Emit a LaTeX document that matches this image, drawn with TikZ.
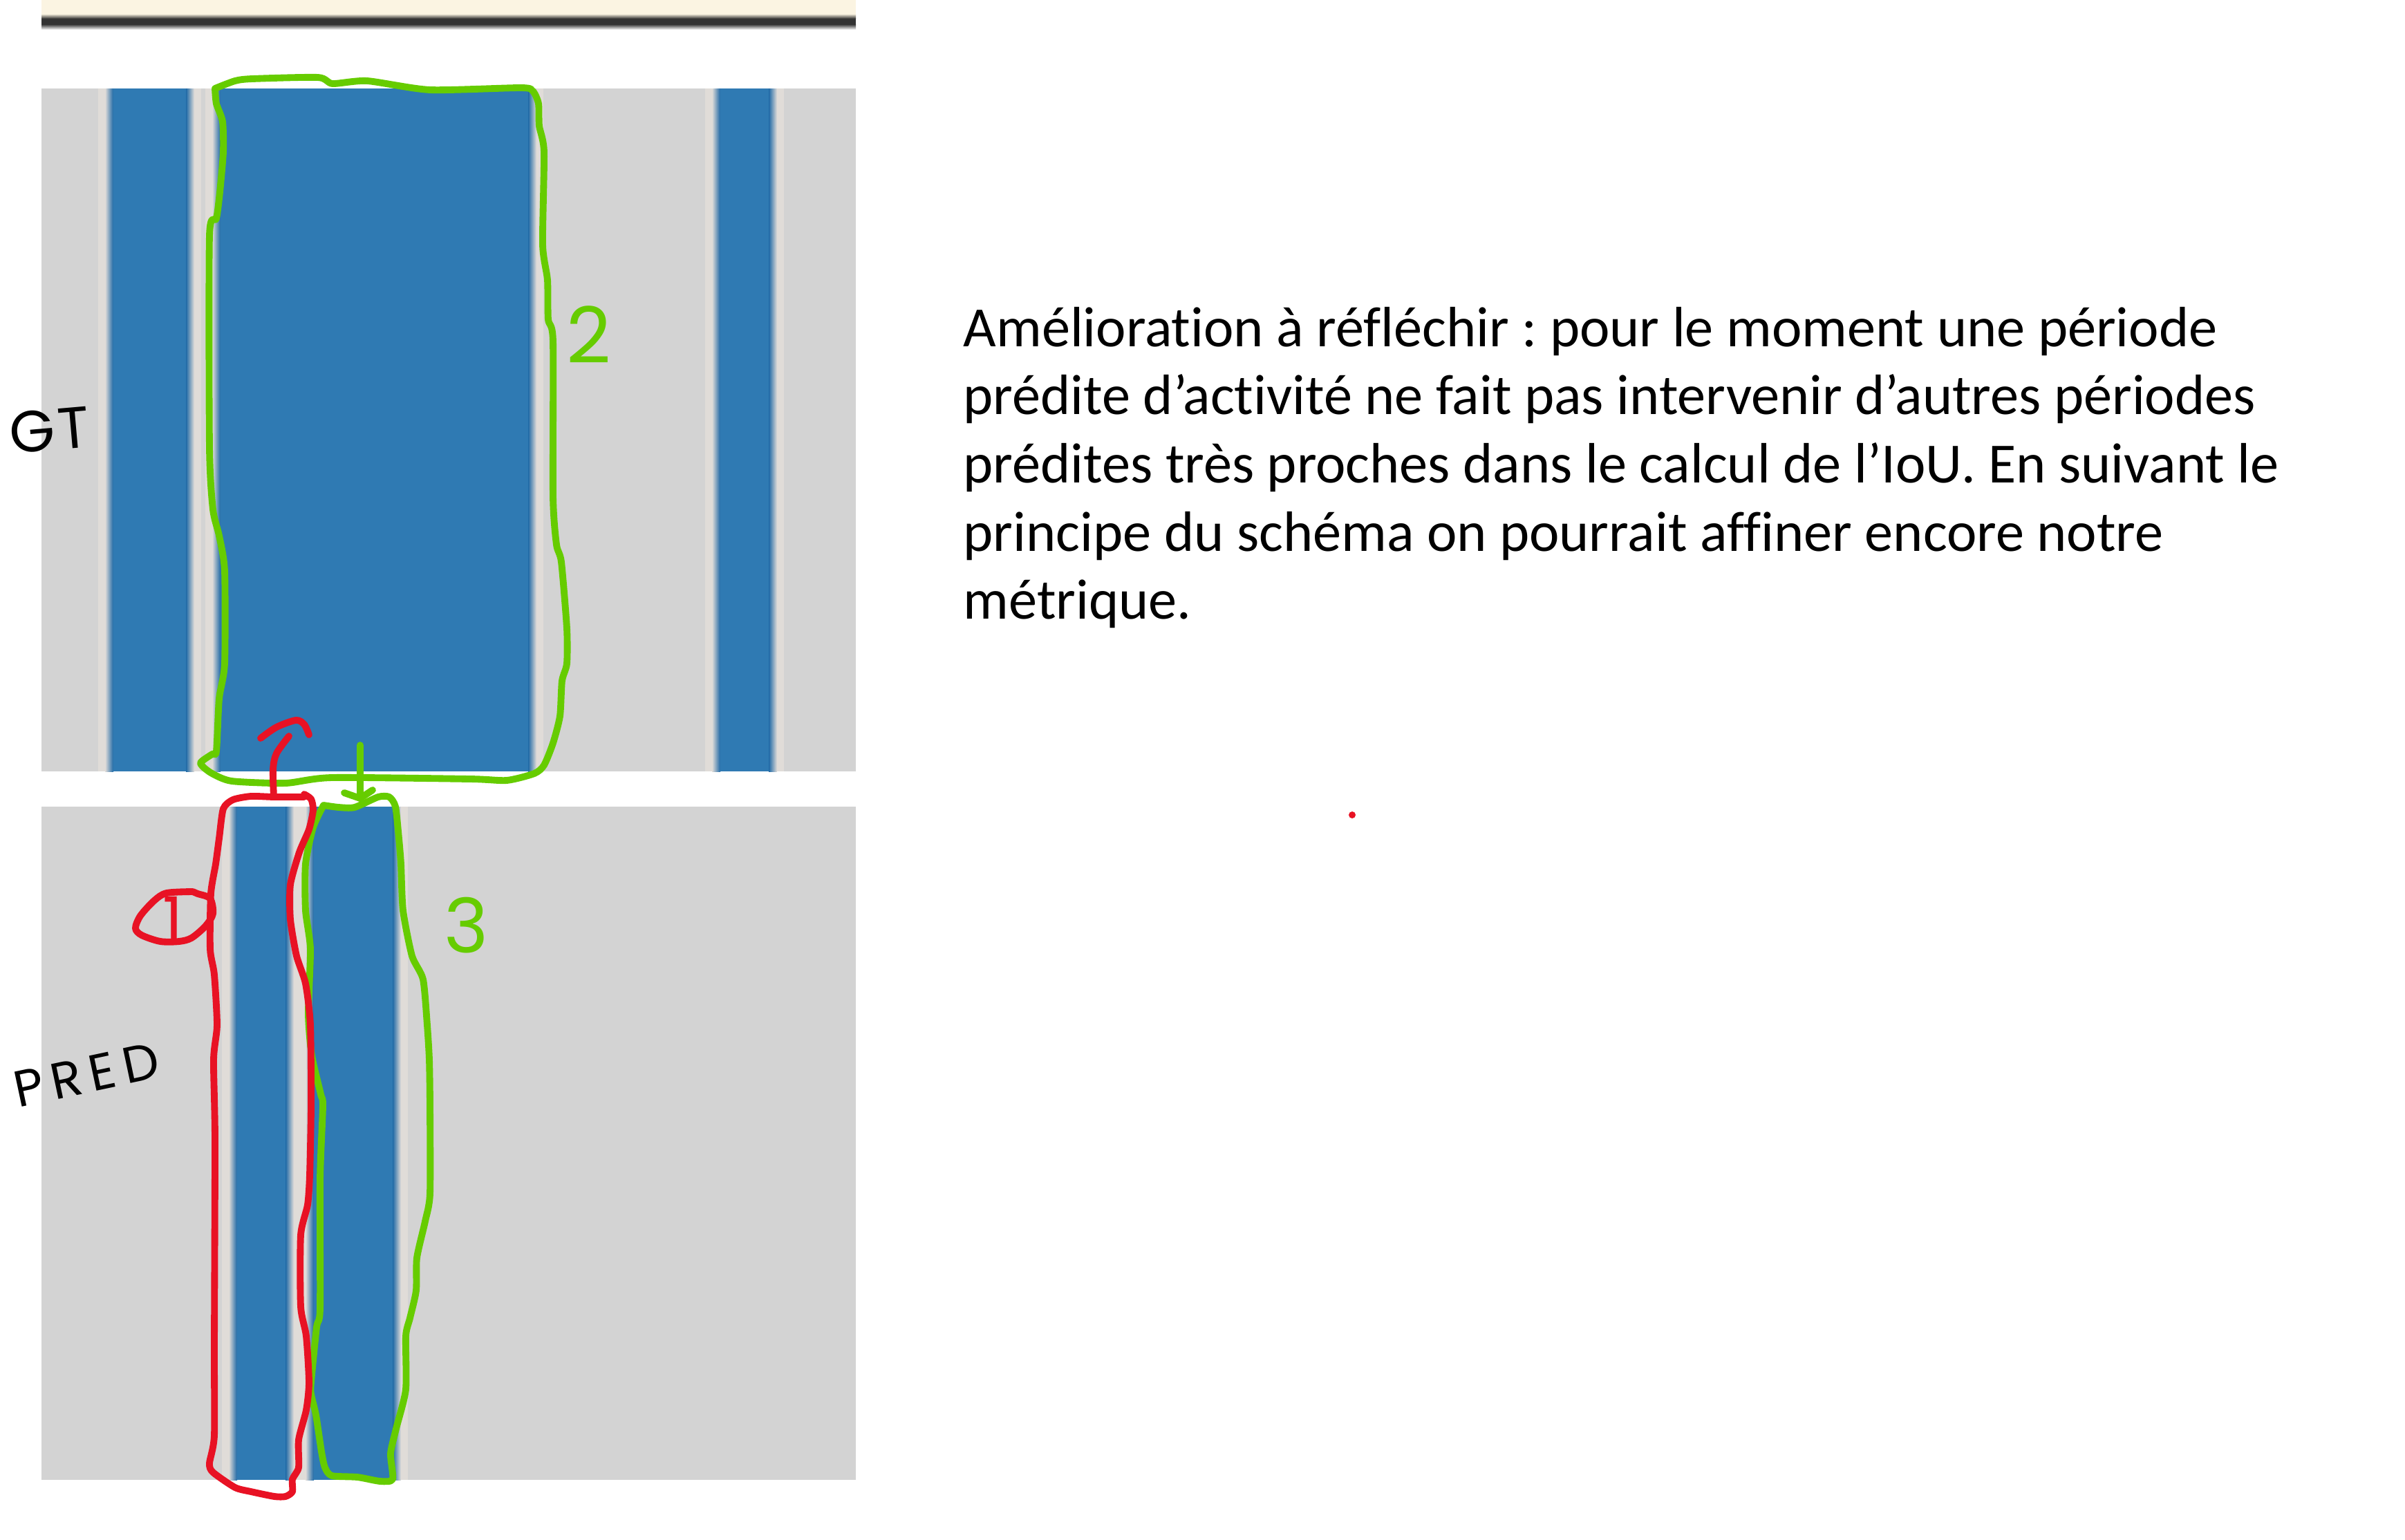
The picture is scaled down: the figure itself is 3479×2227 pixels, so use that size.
\documentclass[tikz,border=0pt]{standalone}
\usepackage{fontspec}
\setmainfont{Carlito}[Ligatures=CommonOff]
\newfontfamily\handfont{Poppins}[LetterSpace=6]
\newfontfamily\handwide{Poppins}[LetterSpace=16]
\frenchspacing
\usetikzlibrary{positioning}

\definecolor{barblue}{HTML}{2F7AB3}
\definecolor{bardark}{HTML}{1F69A6}
\definecolor{halo}{HTML}{E0DCD8}
\definecolor{panel}{HTML}{D3D3D3}
\definecolor{pengreen}{HTML}{66CC00}
\definecolor{penred}{HTML}{E81224}
\definecolor{cream}{HTML}{FBF4E2}
\definecolor{darkline}{HTML}{333333}

\tikzset{
    pen/.style={line width=2.8pt, line cap=round, line join=round},
    penG/.style={pen, draw=pengreen},
    penR/.style={pen, draw=penred},
    hand/.style={font=\handfont\fontsize{24}{24}\selectfont, inner sep=0pt},
    note/.style={font=\fontsize{23.4}{28}\selectfont, anchor=base west, inner sep=0pt}
}

% one blurred activity bar: x1, x2, y1, y2 (pixels)
\newcommand{\actbar}[4]{%
    \fill[halo] (#1-16,#3) rectangle (#2+16,#4);
    \shade[left color=halo, right color=bardark] (#1-6,#3) rectangle (#1+6,#4);
    \fill[barblue] (#1+6,#3) rectangle (#2-6,#4);
    \shade[left color=bardark, right color=halo] (#2-6,#3) rectangle (#2+6,#4);
}

\begin{document}
\begin{tikzpicture}[x=0.01cm, y=-0.01cm]
    \useasboundingbox (0,0) rectangle (3479,2227);

    % Top edge of the screenshot
    \fill[cream] (60,0) rectangle (1238,20);
    \shade[top color=cream, bottom color=darkline] (60,20) rectangle (1238,27);
    \fill[darkline] (60,27) rectangle (1238,35);
    \shade[top color=darkline, bottom color=white] (60,35) rectangle (1238,43);

    % Panels
    \fill[panel] (60,128) rectangle (1238,1116);
    \fill[panel] (60,1167) rectangle (1238,2141);

    % GT periods
    \actbar{158}{275}{128}{1116}
    \actbar{313}{770}{128}{1116}
    \actbar{1036}{1118}{128}{1116}

    % Predicted periods
    \actbar{337}{419}{1167}{2141}
    \actbar{448}{574}{1167}{2141}

    % Row labels
    \node[hand, text=black, rotate=5] (gt) at (72,622) {GT};
    \node[hand, text=black, rotate=12, font=\handwide\fontsize{21}{21}\selectfont] (pred) at (125,1555) {PRED};

    % Green loop 2 (GT)
    \draw[penG] plot[smooth, tension=0.4] coordinates {
        (311,128) (340,117) (365,114) (460,112) (481,121) (531,117) (622,130)
        (754,127) (771,132) (779,150) (780,182) (787,220) (785,354) (792,405)
        (793,462) (800,494) (800,718) (805,788) (812,813) (820,909) (820,960)
        (813,985) (810,1036) (800,1075) (787,1107) (773,1119) (733,1129)
        (680,1127) (480,1125) (413,1133) (335,1130) (305,1118) (290,1104)
        (307,1091) (313,1087) (317,1011) (325,960) (325,826) (317,775)
        (308,737) (303,647) (303,341) (313,316) (318,278) (323,220) (322,176)
        (313,150) (311,128)};
    \node[hand, text=pengreen, font=\handfont\fontsize{32}{32}\selectfont] (two) at (852,484) {2};

    % Green loop 3 (PRED)
    \draw[penG] plot[smooth, tension=0.4] coordinates {
        (468,1165) (490,1168) (513,1168) (547,1153) (563,1153) (572,1167)
        (577,1213) (580,1250) (583,1317) (596,1383) (612,1417) (618,1483)
        (621,1533) (622,1600) (622,1727) (615,1767) (603,1820) (602,1867)
        (593,1907) (587,1933) (587,2010) (573,2067) (565,2103) (568,2140)
        (550,2143) (517,2137) (480,2135) (470,2123) (465,2100) (457,2047)
        (450,2017) (450,2000) (458,1920) (463,1893) (463,1707) (467,1600)
        (464,1583) (451,1527) (446,1467) (449,1373) (442,1317) (442,1250)
        (453,1197) (468,1165)};
    \node[hand, text=pengreen, font=\handfont\fontsize{31}{31}\selectfont] (three) at (675,1339) {3};

    % Green arrow from GT loop down to PRED loop
    \coordinate (gtfoot) at (521,1078);
    \coordinate (predtop) at (521,1155);
    \draw[penG] (gtfoot) -- (predtop);
    \draw[penG] (498,1147) -- (predtop) -- (539,1143);

    % Red loop 1 (PRED)
    \draw[penR] plot[smooth, tension=0.4] coordinates {
        (440,1149) (450,1156) (453,1172) (447,1200) (433,1233) (420,1280)
        (420,1330) (429,1383) (442,1423) (449,1483) (450,1600) (448,1700)
        (445,1743) (435,1787) (435,1890) (443,1933) (447,2000) (443,2040)
        (432,2083) (432,2123) (423,2140) (423,2158) (413,2165) (397,2165)
        (363,2158) (340,2152) (308,2130) (303,2117) (310,2077) (310,1950)
        (311,1650) (309,1533) (314,1483) (310,1410) (304,1373) (305,1293)
        (312,1250) (317,1213) (323,1170) (337,1157) (363,1152) (397,1153)
        (440,1153)};

    % Red arrow up to the GT row
    \coordinate (redfoot) at (396,1152);
    \coordinate (redtip) at (418,1065);
    \draw[penR] plot[smooth] coordinates {(396,1152) (395,1113) (400,1090) (418,1065)};
    \draw[penR] plot[smooth] coordinates {(377,1068) (400,1052) (428,1042) (440,1048) (447,1063)};

    % Circled 1
    \node[hand, text=penred, font=\handfont\fontsize{26}{26}\selectfont] (one) at (250,1330) {1};
    \draw[penR] plot[smooth, tension=0.5] coordinates {
        (279,1290) (241,1292) (223,1303) (203,1325) (196,1343) (205,1353)
        (232,1362) (259,1362) (277,1357) (297,1340) (308,1322) (304,1300)
        (286,1293) (279,1290)};

    % Stray red dot
    \fill[penred] (1956,1179) circle (5);

    % Note
    \foreach \txt [count=\i] in {
        {Amélioration à réfléchir : pour le moment une période},
        {prédite d’activité ne fait pas intervenir d’autres périodes},
        {prédites très proches dans le calcul de l’IoU. En suivant le},
        {principe du schéma on pourrait affiner encore notre},
        {métrique.}} {
        \node[note] (line\i) at (1393, 501 + 98.7*\i - 98.7) {\txt};
    }
\end{tikzpicture}
\end{document}
